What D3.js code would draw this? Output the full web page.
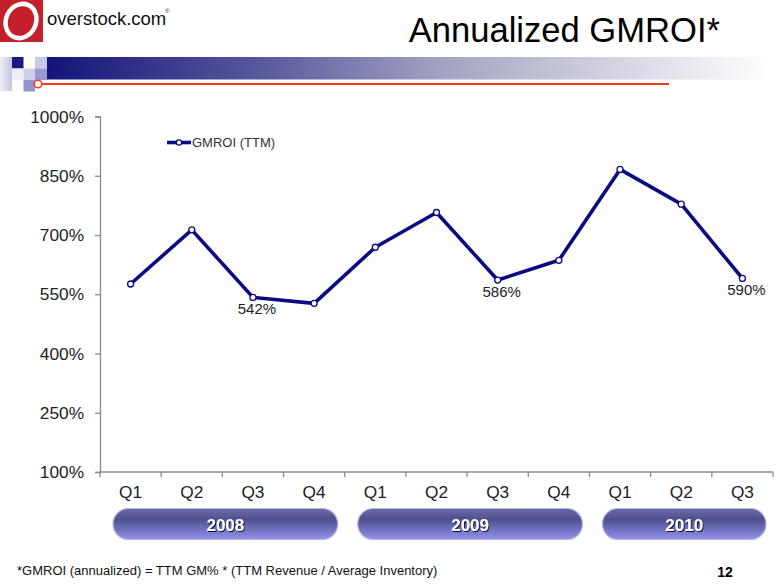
<!DOCTYPE html>
<html><head><meta charset="utf-8">
<script src="https://cdn.jsdelivr.net/npm/d3@7"></script>
<style>body{margin:0;background:#fff}svg{display:block;font-family:"Liberation Sans",Arial,sans-serif}</style>
</head><body><svg id="c" width="780" height="585"></svg>
<script>
const quarters = ["Q1","Q2","Q3","Q4","Q1","Q2","Q3","Q4","Q1","Q2","Q3"];
const gmroi = [576, 713, 542, 527, 669, 757, 586, 636, 866, 778, 590];
const labelled = [2, 6, 10];
const years = ["2008","2009","2010"];
const yearStart = [0, 4, 8];
const yearEnd = [3, 7, 10];
const yTicks = [100, 250, 400, 550, 700, 850, 1000];
const seriesName = "GMROI (TTM)";
const title = "Annualized GMROI*";
const footnote = "*GMROI (annualized) = TTM GM% * (TTM Revenue / Average Inventory)";
const pageNo = "12";

const svg = d3.select("#c");
const defs = svg.append("defs");

const g1 = defs.append("linearGradient").attr("id","band").attr("x1","0").attr("x2","1");
g1.append("stop").attr("offset","0").attr("stop-color","#14147a");
g1.append("stop").attr("offset","0.3").attr("stop-color","#5a5a9e");
g1.append("stop").attr("offset","0.55").attr("stop-color","#a4a4c2");
g1.append("stop").attr("offset","1").attr("stop-color","#ffffff");
const g2 = defs.append("linearGradient").attr("id","pill").attr("x1","0").attr("x2","0").attr("y1","0").attr("y2","1");
g2.append("stop").attr("offset","0").attr("stop-color","#6a6aa8");
g2.append("stop").attr("offset","0.35").attr("stop-color","#50508e");
g2.append("stop").attr("offset","1").attr("stop-color","#9292ec");
const g3 = defs.append("linearGradient").attr("id","fade").attr("x1","0").attr("x2","1");
g3.append("stop").attr("offset","0").attr("stop-color","#e4e4f2");
g3.append("stop").attr("offset","1").attr("stop-color","#9c9cc8");
const sh = defs.append("filter").attr("id","sh");
sh.append("feDropShadow").attr("dx",1).attr("dy",1).attr("stdDeviation",0.6).attr("flood-color","#101040");

// logo
svg.append("rect").attr("x",0).attr("y",0).attr("width",43).attr("height",42).attr("fill","#c41f2b");
svg.append("ellipse").attr("cx",21).attr("cy",21).attr("rx",15).attr("ry",17.5)
  .attr("transform","rotate(25,21,21)").attr("fill","none").attr("stroke","#fff").attr("stroke-width",4.5);
svg.append("text").attr("x",47).attr("y",25).attr("font-size",18.5).attr("fill","#111").text("overstock.com");
svg.append("text").attr("x",165).attr("y",13).attr("font-size",6).attr("fill","#333").text("®");

// header decoration
svg.append("rect").attr("x",47).attr("y",57).attr("width",725).attr("height",22.5).attr("fill","url(#band)");
svg.append("rect").attr("x",0).attr("y",57).attr("width",12).attr("height",34).attr("fill","url(#fade)").attr("opacity",0.6);
svg.append("rect").attr("x",12).attr("y",57).attr("width",11.5).attr("height",11.5).attr("fill","#1a1a80");
svg.append("rect").attr("x",12).attr("y",68.5).attr("width",11.5).attr("height",11.5).attr("fill","#eeeef8");
svg.append("rect").attr("x",35).attr("y",57).attr("width",12).attr("height",11.5).attr("fill","#c8c8e6");
svg.append("rect").attr("x",23.5).attr("y",68.5).attr("width",11.5).attr("height",11.5).attr("fill","#d0d0ea");
svg.append("rect").attr("x",35).attr("y",68.5).attr("width",12).attr("height",11.5).attr("fill","#9898cc");
svg.append("rect").attr("x",23.5).attr("y",80).attr("width",11.5).attr("height",11.5).attr("fill","#9494ca");
svg.append("line").attr("x1",38).attr("x2",669).attr("y1",84).attr("y2",84).attr("stroke","#f03a1c").attr("stroke-width",2.2);
svg.append("circle").attr("cx",38).attr("cy",84).attr("r",3.8).attr("fill","#fff").attr("stroke","#f03a1c").attr("stroke-width",1.5);

svg.append("text").attr("x",720).attr("y",42).attr("text-anchor","end").attr("font-size",34.6).attr("fill","#000").text(title);

// scales
const x = d3.scaleBand().domain(d3.range(quarters.length)).range([100,773]).padding(0);
const y = d3.scaleLinear().domain([100,1000]).range([472,116.5]);

// y axis
const ya = svg.append("g").attr("transform","translate(100,0)")
  .call(d3.axisLeft(y).tickValues(yTicks).tickFormat(d=>d+"%").tickSize(5).tickPadding(11));
ya.select(".domain").attr("stroke","#8c8c8c").attr("stroke-width",1.3);
ya.selectAll(".tick line").attr("stroke","#8c8c8c").attr("stroke-width",1.3);
ya.selectAll("text").attr("font-size",17.3).attr("fill","#222").attr("font-family","Liberation Sans, Arial, sans-serif");

// x axis with boundary ticks
const xa = svg.append("g").attr("transform","translate(0,472)");
xa.append("line").attr("x1",100).attr("x2",773).attr("y1",0).attr("y2",0).attr("stroke","#8c8c8c").attr("stroke-width",1.3);
xa.selectAll("line.t").data(d3.range(quarters.length+1)).join("line").attr("class","t")
  .attr("x1",i=> i<quarters.length ? x(i) : x(i-1)+x.bandwidth())
  .attr("x2",i=> i<quarters.length ? x(i) : x(i-1)+x.bandwidth())
  .attr("y1",0).attr("y2",5).attr("stroke","#8c8c8c").attr("stroke-width",1.3);
xa.selectAll("text").data(quarters).join("text")
  .attr("x",(d,i)=>x(i)+x.bandwidth()/2).attr("y",26).attr("text-anchor","middle")
  .attr("font-size",17.3).attr("fill","#222").text(d=>d);

// line
const cx = i => x(i)+x.bandwidth()/2;
svg.append("path").datum(gmroi)
  .attr("d", d3.line().x((d,i)=>cx(i)).y(d=>y(d)))
  .attr("fill","none").attr("stroke","#0a0a82").attr("stroke-width",3.6).attr("stroke-linejoin","round");
svg.selectAll("circle.pt").data(gmroi).join("circle").attr("class","pt")
  .attr("cx",(d,i)=>cx(i)).attr("cy",d=>y(d)).attr("r",3)
  .attr("fill","#fff").attr("stroke","#0a0a82").attr("stroke-width",1.3);

svg.selectAll("text.lbl").data(labelled).join("text").attr("class","lbl")
  .attr("x",i=>cx(i)+4).attr("y",i=>y(gmroi[i])+17).attr("text-anchor","middle")
  .attr("font-size",15).attr("fill","#222").text(i=>gmroi[i]+"%");

// legend
svg.append("line").attr("x1",167).attr("x2",191).attr("y1",142.5).attr("y2",142.5).attr("stroke","#0a0a82").attr("stroke-width",3.6);
svg.append("circle").attr("cx",179).attr("cy",142.5).attr("r",2.6).attr("fill","#fff").attr("stroke","#0a0a82").attr("stroke-width",1.2);
svg.append("text").attr("x",192).attr("y",147).attr("font-size",13).attr("fill","#333").text(seriesName);

// year pills
const pills = svg.selectAll("g.pill").data(years).join("g").attr("class","pill");
pills.append("rect")
  .attr("x",(d,i)=>x(yearStart[i])+13)
  .attr("width",(d,i)=>x(yearEnd[i])+x.bandwidth()-7-(x(yearStart[i])+13))
  .attr("y",508.5).attr("height",31).attr("rx",15.5)
  .attr("fill","url(#pill)").attr("stroke","#b4b4e4").attr("stroke-width",1.2);
pills.append("text")
  .attr("x",(d,i)=>(x(yearStart[i])+13 + x(yearEnd[i])+x.bandwidth()-7)/2)
  .attr("y",531).attr("text-anchor","middle").attr("font-size",17).attr("font-weight","bold")
  .attr("fill","#fff").attr("filter","url(#sh)").text(d=>d);

// footnote and page no.
svg.append("text").attr("x",17).attr("y",575).attr("font-size",13).attr("fill","#111").text(footnote);
svg.append("text").attr("x",725).attr("y",577).attr("text-anchor","middle").attr("font-size",14).attr("font-weight","bold").attr("fill","#000").text(pageNo);
</script></body></html>
